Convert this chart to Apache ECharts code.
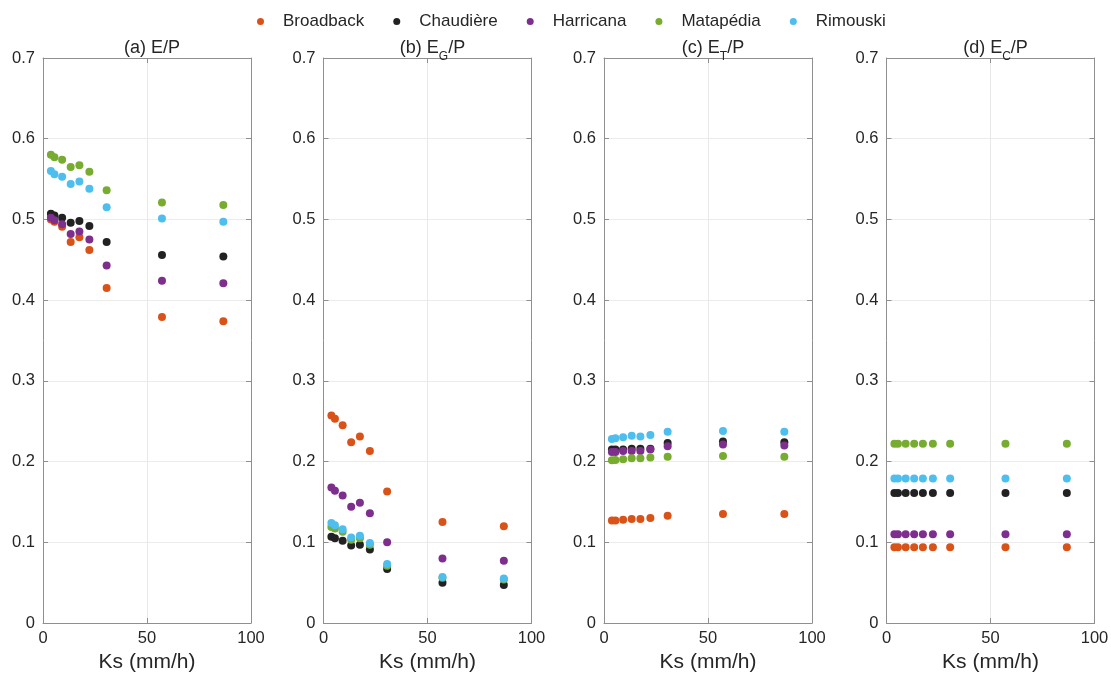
<!DOCTYPE html>
<html>
<head>
<meta charset="utf-8">
<script src="https://cdn.jsdelivr.net/npm/echarts@6/dist/echarts.min.js"></script>
<style>
html,body{margin:0;padding:0;background:#fff;}
#chart{width:1111px;height:676px;}
</style>
</head>
<body>
<div id="chart"></div>
<script>
// ---- data ----
const seriesNames = ['Broadback', 'Chaudière', 'Harricana', 'Matapédia', 'Rimouski'];
const ks = [3.8, 5.5, 9.2, 13.3, 17.5, 22.3, 30.6, 57.2, 86.7];

const epBroadback = [0.500, 0.497, 0.491, 0.472, 0.478, 0.462, 0.415, 0.379, 0.374];
const epChaudiere = [0.507, 0.505, 0.502, 0.496, 0.498, 0.492, 0.472, 0.456, 0.454];
const epHarricana = [0.502, 0.499, 0.494, 0.482, 0.485, 0.475, 0.443, 0.424, 0.421];
const epMatapedia = [0.580, 0.577, 0.574, 0.565, 0.567, 0.559, 0.536, 0.521, 0.518];
const epRimouski  = [0.560, 0.556, 0.553, 0.544, 0.547, 0.538, 0.515, 0.501, 0.497];

const egBroadback = [0.257, 0.253, 0.245, 0.224, 0.231, 0.213, 0.163, 0.125, 0.120];
const egChaudiere = [0.107, 0.105, 0.102, 0.096, 0.097, 0.091, 0.067, 0.050, 0.047];
const egHarricana = [0.168, 0.164, 0.158, 0.144, 0.149, 0.136, 0.100, 0.080, 0.077];
const egMatapedia = [0.119, 0.117, 0.113, 0.103, 0.105, 0.097, 0.071, 0.056, 0.054];
const egRimouski  = [0.124, 0.121, 0.116, 0.106, 0.108, 0.099, 0.073, 0.057, 0.055];

const etBroadback = [0.127, 0.127, 0.128, 0.129, 0.129, 0.130, 0.133, 0.135, 0.135];
const etChaudiere = [0.215, 0.215, 0.215, 0.216, 0.216, 0.216, 0.223, 0.225, 0.224];
const etHarricana = [0.212, 0.212, 0.213, 0.213, 0.213, 0.215, 0.219, 0.221, 0.220];
const etMatapedia = [0.2015, 0.202, 0.203, 0.204, 0.204, 0.205, 0.206, 0.207, 0.206];
const etRimouski  = [0.228, 0.229, 0.230, 0.232, 0.231, 0.233, 0.237, 0.238, 0.237];

const ecBroadback = [0.094, 0.094, 0.094, 0.094, 0.094, 0.094, 0.094, 0.094, 0.094];
const ecChaudiere = [0.161, 0.161, 0.161, 0.161, 0.161, 0.161, 0.161, 0.161, 0.161];
const ecHarricana = [0.110, 0.110, 0.110, 0.110, 0.110, 0.110, 0.110, 0.110, 0.110];
const ecMatapedia = [0.222, 0.222, 0.222, 0.222, 0.222, 0.222, 0.222, 0.222, 0.222];
const ecRimouski  = [0.179, 0.179, 0.179, 0.179, 0.179, 0.179, 0.179, 0.179, 0.179];

const panelTitles = ['{n|(a) E/P}', '{n|(b) E}{sub|G}{n|/P}', '{n|(c) E}{sub|T}{n|/P}', '{n|(d) E}{sub|C}{n|/P}'];
const xTicks = [0, 50, 100];
const yTicks = [0, 0.1, 0.2, 0.3, 0.4, 0.5, 0.6, 0.7];
const xName = 'Ks (mm/h)';

const panels = [
  [epBroadback, epChaudiere, epHarricana, epMatapedia, epRimouski],
  [egBroadback, egChaudiere, egHarricana, egMatapedia, egRimouski],
  [etBroadback, etChaudiere, etHarricana, etMatapedia, etRimouski],
  [ecBroadback, ecChaudiere, ecHarricana, ecMatapedia, ecRimouski]
];

// ---- styles ----
const colors = ['#D95319', '#222222', '#7E2F8E', '#77AC30', '#4DBEEE'];
const FONT = 'Liberation Sans, Arial, sans-serif';
const lefts = [43, 323.5, 604, 886.5];
const W = 208, TOP = 58, H = 565;
const axisColor = '#8f8f8f';
const textColor = '#262626';

const grids = [], xAxes = [], yAxes = [], series = [], titles = [];
lefts.forEach((l, p) => {
  grids.push({ left: l, top: TOP, width: W, height: H, containLabel: false, outerBoundsMode: 'none' });
  xAxes.push({
    gridIndex: p, type: 'value', min: 0, max: 100, interval: 50, position: 'bottom',
    name: xName, nameLocation: 'middle', nameGap: 29,
    nameTextStyle: { fontFamily: FONT, fontSize: 21, color: textColor },
    axisLine: { show: true, onZero: false, lineStyle: { color: axisColor, width: 1 } },
    axisTick: { show: true, inside: true, length: 5, lineStyle: { color: axisColor } },
    axisLabel: { fontFamily: FONT, fontSize: 16.5, color: textColor, margin: 7,
      formatter: v => xTicks.includes(v) ? String(v) : '' },
    splitLine: { show: true, lineStyle: { color: '#e8e8e8', width: 1 } }
  });
  xAxes.push({
    gridIndex: p, type: 'value', min: 0, max: 100, interval: 50, position: 'top',
    axisLine: { show: true, onZero: false, lineStyle: { color: axisColor, width: 1 } },
    axisTick: { show: true, inside: true, length: 5, lineStyle: { color: axisColor } },
    axisLabel: { show: false }, splitLine: { show: false }
  });
  yAxes.push({
    gridIndex: p, type: 'value', min: 0, max: 0.7, interval: 0.1, position: 'left',
    axisLine: { show: true, onZero: false, lineStyle: { color: axisColor, width: 1 } },
    axisTick: { show: true, inside: true, length: 5, lineStyle: { color: axisColor } },
    axisLabel: { fontFamily: FONT, fontSize: 16.5, color: textColor, margin: 8,
      formatter: v => { const t = yTicks.find(k => Math.abs(k - v) < 1e-9); return t === undefined ? '' : String(t); } },
    splitLine: { show: true, lineStyle: { color: '#ececec', width: 1 } }
  });
  yAxes.push({
    gridIndex: p, type: 'value', min: 0, max: 0.7, interval: 0.1, position: 'right',
    axisLine: { show: true, onZero: false, lineStyle: { color: axisColor, width: 1 } },
    axisTick: { show: true, inside: true, length: 5, lineStyle: { color: axisColor } },
    axisLabel: { show: false }, splitLine: { show: false }
  });
  titles.push({
    text: panelTitles[p],
    left: l + W / 2, top: 34, textAlign: 'center',
    textStyle: {
      fontFamily: FONT, fontSize: 18, fontWeight: 'normal', color: textColor,
      rich: {
        n: { fontFamily: FONT, fontSize: 18, color: textColor, lineHeight: 20, verticalAlign: 'top' },
        sub: { fontFamily: FONT, fontSize: 12, color: textColor, lineHeight: 12, padding: [12, 0, 0, 0], verticalAlign: 'top' }
      }
    }
  });
  panels[p].forEach((vals, s) => {
    series.push({
      name: seriesNames[s], type: 'scatter',
      xAxisIndex: p * 2, yAxisIndex: p * 2,
      symbol: 'circle', symbolSize: 8,
      itemStyle: { color: colors[s], opacity: 1 },
      data: ks.map((k, i) => [k, vals[i]]),
      z: 2 + s
    });
  });
});

const chart = echarts.init(document.getElementById('chart'), null, { renderer: 'canvas' });
chart.setOption({
  animation: false,
  backgroundColor: '#ffffff',
  color: colors,
  title: titles,
  legend: {
    data: seriesNames.map((n, i) => ({ name: n, icon: 'circle', itemStyle: { color: colors[i] } })),
    left: 252, top: 8,
    itemWidth: 7, itemHeight: 7, itemGap: 29,
    textStyle: { fontFamily: FONT, fontSize: 17, color: textColor, padding: [0, 0, 0, 14] }
  },
  grid: grids,
  xAxis: xAxes,
  yAxis: yAxes,
  series: series
});
</script>
</body>
</html>
